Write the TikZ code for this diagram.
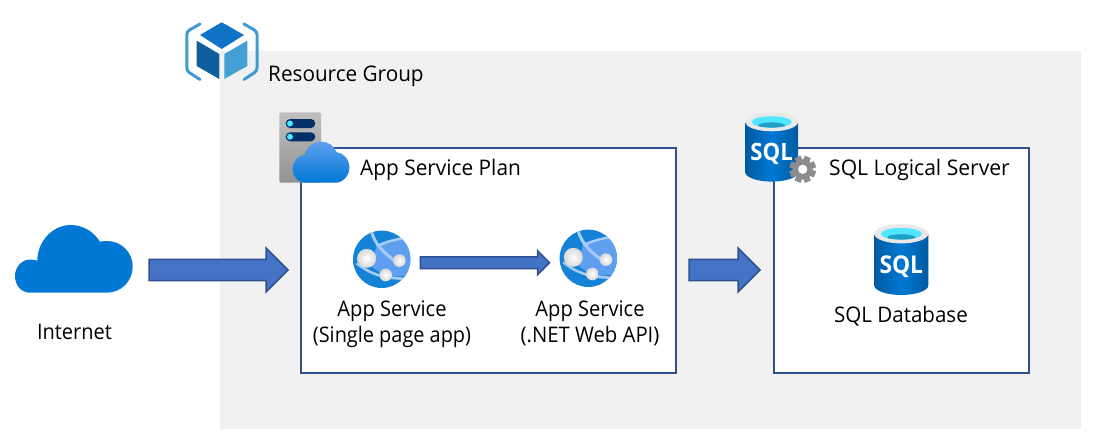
\documentclass[tikz,border=0pt]{standalone}
\usepackage{fontspec}
\setmainfont[FakeStretch=0.93]{Open Sans}
\usetikzlibrary{calc}
\definecolor{panelgray}{HTML}{F1F1F1}
\definecolor{boxblue}{HTML}{2F528F}
\definecolor{arrowfill}{HTML}{4472C4}
\definecolor{azure}{HTML}{0078D4}
\definecolor{azuredark}{HTML}{005BA1}
\definecolor{azurelight}{HTML}{5EA0EF}
\definecolor{cubetop}{HTML}{0F73C7}
\definecolor{cubeleft}{HTML}{0F5F9F}
\definecolor{cuberight}{HTML}{44A0D4}
\definecolor{bracket}{HTML}{3F9BD0}
\definecolor{navy}{HTML}{003067}
\definecolor{cyanlight}{HTML}{50E6FF}
\definecolor{teal}{HTML}{1F9FC7}
\definecolor{gearcol}{HTML}{8C8C8C}
\tikzset{
  x=1pt,y=-1pt,
  label text/.style={font=\fontsize{21.5}{25}\selectfont,text=black,inner sep=0pt,align=center,transform shape,xscale=#1},
  label text/.default=1,
  group box/.style={draw=boxblue,line width=2pt,fill=white,inner sep=0pt,outer sep=0pt},
  block arrow/.style={draw=boxblue,line width=1.5pt,fill=arrowfill,line join=miter},
  anchor box/.style={inner sep=0pt,outer sep=0pt},
  clouda/.pic={
    \path[pic actions] (15,67.7) .. controls (6,67.7) and (0,60) .. (0,51)
      .. controls (0,42) and (7,34.5) .. (15,34.5)
      .. controls (18,34.5) and (20,35) .. (22.3,35.7)
      .. controls (22.3,17) and (37,0) .. (56,0)
      .. controls (68,0) and (79,7) .. (85,16.7)
      .. controls (88,16) and (90,16) .. (92,16)
      .. controls (106,16) and (117.7,27) .. (117.7,41.7)
      .. controls (117.7,56) and (106,67.7) .. (92,67.7) -- cycle;
  },
  cloudb/.pic={
    \path[top color=azurelight,bottom color=azure] (13,41) .. controls (5,41) and (0,35) .. (0,27.5)
      .. controls (0,20) and (5,14) .. (12,13)
      .. controls (14,5) and (21,0) .. (29,0)
      .. controls (36,0) and (41,4) .. (44,10.5)
      .. controls (51,11) and (56.7,18) .. (56.7,26)
      .. controls (56.7,34) and (50,41) .. (43,41) -- cycle;
  },
  sqlcyl/.pic={
    \path[left color=azuredark,right color=azuredark,middle color=azure]
      (-27,-25) -- (-27,26) .. controls (-27,31) and (-15,35.5) .. (0,35.5)
      .. controls (15,35.5) and (27,31) .. (27,26) -- (27,-25) -- cycle;
    \fill[gray!18] (0,-25.7) ellipse [x radius=27,y radius=9.6];
    \begin{scope}
      \clip (0,-25.7) ellipse [x radius=20.5,y radius=5.8];
      \fill[cyanlight] (0,-25.7) circle (22);
      \fill[teal] (0,-22) ellipse [x radius=14,y radius=3.2];
    \end{scope}
    \node[transform shape,text=white,font=\fontsize{24.5}{26}\selectfont\bfseries,inner sep=0pt] at (0,7) {SQL};
  },
  globe/.pic={
    \fill[azure!92!white] (0,0) circle (28.7);
    \begin{scope}
      \clip (0,0) circle (28.7);
      \fill[azurelight] (-5,-13) -- (29,-22) -- (29,16) -- (5,18) -- (-12,6) -- cycle;
      \draw[color=azurelight!55!white,line width=3pt,line cap=round] (-10,-27) .. controls (-7,-16) and (2,-6) .. (14,2);
      \draw[color=azurelight!55!white,line width=2.6pt] (-5,-13) .. controls (5,-18) and (18,-21) .. (30,-22);
      \draw[color=azurelight!55!white,line width=2.6pt] (-25,4) .. controls (-15,12) and (0,21) .. (30,19);
    \end{scope}
    \shade[inner color=white,outer color=gray!30] (-15,-1) circle (9.5);
    \shade[inner color=white,outer color=gray!30] (17.7,1.3) circle (6.3);
    \shade[inner color=white,outer color=gray!30] (4,15.7) circle (6.3);
  }
}
\newcommand{\blockarrow}[5]{%
  \draw[block arrow] let \p1=(#1),\p2=(#2) in
    (\x1,\y1+#3pt) -- (\x2-#5pt,\y1+#3pt) -- (\x2-#5pt,\y1+#4pt) -- (\x2,\y1)
    -- (\x2-#5pt,\y1-#4pt) -- (\x2-#5pt,\y1-#3pt) -- (\x1,\y1-#3pt) -- cycle;}
\begin{document}
\begin{tikzpicture}
\useasboundingbox (0,0) rectangle (1096,444);
\fill[white] (0,0) rectangle (1096,444);
% resource group panel
\node[fill=panelgray,anchor box,minimum width=861,minimum height=378,anchor=north west] (rg) at (220,51) {};
% boxes
\node[group box,minimum width=375,minimum height=225,anchor=north west] (plan) at (301,148) {};
\node[group box,minimum width=255,minimum height=225,anchor=north west] (sqlsrv) at (774,148) {};
% resource group icon
\fill[cubetop] (221.7,22.3) -- (244,35) -- (221.7,49) -- (200,35) -- cycle;
\fill[cubeleft] (196.7,40.7) -- (219.3,54) -- (219.3,79) -- (196.7,66) -- cycle;
\fill[cuberight] (247.3,40.7) -- (224.3,54) -- (224.3,79) -- (247.3,66) -- cycle;
\draw[bracket,line width=3pt,line cap=round,rounded corners=3pt] (200,24) -- (186.8,31.5) -- (186.8,71) -- (200,79.5);
\draw[bracket,line width=3pt,line cap=round,rounded corners=3pt] (244,24) -- (257,31.5) -- (257,71) -- (244,79.5);
% server icon
\shade[top color=gray!50,bottom color=gray!85,rounded corners=1.5pt] (279.3,112.3) rectangle (321,182.7);
\fill[navy,rounded corners=4.5pt] (285.7,119) rectangle (315.3,128);
\fill[navy,rounded corners=4.5pt] (285.7,132.3) rectangle (315.3,141.3);
\fill[cyanlight] (290,123.5) circle (3);
\fill[cyanlight] (290,136.8) circle (3);
\pic at (292.7,141.7) {cloudb};
% internet
\node[anchor box,minimum width=118,minimum height=68] (inet) at (74,259) {};
\pic[fill=azure] at (15,225) {clouda};
% app services
\node[circle,anchor box,minimum size=57.4] (app1) at (381.7,259.3) {};
\node[circle,anchor box,minimum size=57.4] (app2) at (588.3,258.3) {};
\pic at (app1.center) {globe};
\pic at (app2.center) {globe};
% SQL icons
\pic[scale=0.975] at (771.7,147) {sqlcyl};
\pic[scale=1] at (901.3,259.5) {sqlcyl};
% gear
\begin{scope}[shift={(802.7,169.3)}]
  \foreach \a in {0,45,...,315}{
    \fill[gearcol,rotate=\a+22.5] (-3.2,-13.4) rectangle (3.2,0);
  }
  \fill[gearcol] (0,0) circle (10);
  \fill[white] (0,0) circle (4.6);
\end{scope}
% arrows
\blockarrow{$(inet.east)+(16,11)$}{$(plan.west)+(-13,9.5)$}{10.7}{22}{22}
\blockarrow{$(app1.east)+(10,3.4)$}{$(app2.west)+(-10,4.4)$}{5.8}{12}{12}
\blockarrow{$(plan.east)+(13,9.5)$}{$(sqlsrv.west)+(-14,9.5)$}{10.7}{22}{22}
% labels
\node[label text=1.036,anchor=west] (trg) at (268,76) {Resource Group};
\node[label text=1.042,anchor=west] (tplan) at (360,170) {App Service Plan};
\node[label text=1.055,anchor=west] (tsrv) at (829,170) {SQL Logical Server};
\node[label text] (tinet) at (74.5,332) {Internet};
\node[label text=1.005,text height=15pt,text depth=4pt] (t1a) at (392,311) {App Service};
\node[label text=0.995,text height=15pt,text depth=4pt] (t1b) at (392,337) {(Single page app)};
\node[label text=1.005,text height=15pt,text depth=4pt] (t2a) at (590,311) {App Service};
\node[label text=1.016,text height=15pt,text depth=4pt] (t2b) at (590,337) {(.NET Web API)};
\node[label text=1.027] (tdb) at (901,316) {SQL Database};
\end{tikzpicture}
\end{document}
